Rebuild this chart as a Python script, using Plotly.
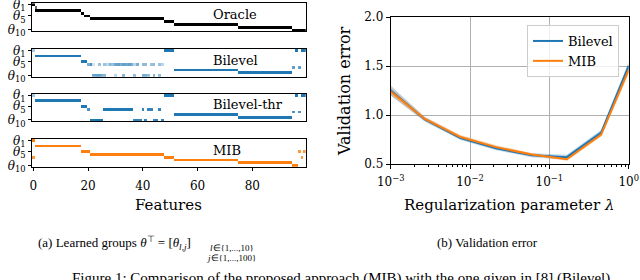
import plotly.graph_objects as go

# ---------------- data: learned groups (left) ----------------
n_features = 100
n_groups = 10
feature_ticks = [0, 20, 40, 60, 80]
group_tickvals = [0, 4, 9]
group_ticktext = ["<i>θ</i><sub>1</sub>", "<i>θ</i><sub>5</sub>", "<i>θ</i><sub>10</sub>"]

# (group row, first feature, last feature, weight)
oracle_segments = [(0, 0, 0, 1), (1, 1, 1, 0.6), (2, 1, 17, 1), (3, 18, 18, 1),
                   (4, 19, 20, 1), (5, 21, 47, 1), (6, 48, 51, 1), (7, 52, 74, 1),
                   (8, 75, 94, 1), (9, 95, 99, 1)]

bilevel_segments = [(0, 0, 0, 0.4), (2, 1, 17, 1), (4, 18, 19, 1), (5, 20, 20, 0.6),
                    (0, 48, 51, 1), (7, 52, 74, 1), (8, 75, 94, 1),
                    (6, 95, 95, 0.7), (0, 96, 96, 1), (6, 97, 97, 0.7), (0, 98, 99, 1)]
bilevel_soft_features = list(range(21, 48))
bilevel_soft_top_row = 5
bilevel_soft_top = [0.8, 0.2, 0.0, 0.45, 0.0, 0.45, 0.3, 0.55, 0.45, 0.65, 0.7, 0.6, 0.7,
                    0.65, 0.7, 0.6, 0.3, 0.6, 0.0, 0.5, 0.5, 0.0, 0.45, 0.5, 0.0, 0.45, 0.3]
bilevel_soft_bottom_row = 9
bilevel_soft_bottom = [0.0, 0.65, 0.7, 0.7, 0.6, 0.55, 0.0, 0.0, 0.0, 0.3, 0.0, 0.0, 0.55,
                       0.0, 0.0, 0.0, 0.5, 0.0, 0.0, 0.6, 0.6, 0.5, 0.0, 0.55, 0.0, 0.5, 0.0]

thr_segments = [(0, 0, 0, 0.4), (2, 1, 17, 1), (4, 18, 19, 1), (5, 20, 20, 0.8),
                (9, 21, 25, 1), (5, 26, 36, 1), (9, 37, 39, 0.9), (5, 40, 40, 0.9),
                (9, 41, 41, 0.9), (5, 42, 43, 0.9), (9, 44, 45, 0.9), (5, 46, 46, 0.9),
                (9, 47, 47, 0.9), (0, 48, 51, 1), (7, 52, 74, 1), (8, 75, 94, 1),
                (6, 95, 95, 0.8), (0, 96, 96, 1), (6, 97, 97, 0.8), (0, 98, 99, 1)]

mib_segments = [(0, 0, 0, 1), (6, 0, 0, 0.8), (2, 1, 17, 1), (4, 18, 20, 1),
                (5, 21, 47, 1), (6, 48, 51, 1), (7, 52, 74, 1), (8, 75, 94, 1),
                (9, 95, 96, 1), (4, 97, 97, 0.8), (6, 98, 98, 0.8), (4, 99, 99, 0.8)]

panel_names = ["Oracle", "Bilevel", "Bilevel-thr", "MIB"]
panel_colors = ["#000000", "#1f77b4", "#1f77b4", "#ff7f0e"]

# ---------------- data: validation error (right) ----------------
lambdas = [0.001, 0.0027, 0.0076, 0.0213, 0.0597, 0.166, 0.45, 1.0]
bilevel_err = [1.25, 0.955, 0.765, 0.66, 0.59, 0.57, 0.82, 1.50]
bilevel_std = [0.05, 0.025, 0.02, 0.02, 0.02, 0.025, 0.03, 0.04]
mib_err = [1.24, 0.96, 0.775, 0.672, 0.597, 0.548, 0.80, 1.46]
mib_std = [0.04, 0.02, 0.02, 0.02, 0.015, 0.015, 0.02, 0.04]
val_ticks = [0.5, 1.0, 1.5, 2.0]
lam_ticks = [0.001, 0.01, 0.1, 1.0]
lam_ticktext = ["10<sup>−3</sup>", "10<sup>−2</sup>", "10<sup>−1</sup>", "10<sup>0</sup>"]


def build(segments, soft=None):
    z = [[0.0] * n_features for _ in range(n_groups)]
    for row, a, b, w in segments:
        for j in range(a, b + 1):
            z[row][j] = max(z[row][j], w)
    if soft:
        for row, weights in soft:
            for j, w in zip(bilevel_soft_features, weights):
                z[row][j] = max(z[row][j], w)
    return z


matrices = [
    build(oracle_segments),
    build(bilevel_segments, [(bilevel_soft_top_row, bilevel_soft_top),
                             (bilevel_soft_bottom_row, bilevel_soft_bottom)]),
    build(thr_segments),
    build(mib_segments),
]

H = 280.0
W = 640.0
def py(pix):
    return 1 - pix / H
def px(pix):
    return pix / W

left_x = [px(32), px(305.7)]
left_y = [(py(31), py(3.3)), (py(76.7), py(49)), (py(121.3), py(93.7)), (py(166.7), py(139))]

SERIF = "DejaVu Serif"
TIMES = "Liberation Serif"

fig = go.Figure()
layout = dict(width=640, height=280, margin=dict(l=0, r=0, t=0, b=0),
              paper_bgcolor="white", plot_bgcolor="white", showlegend=True,
              template="none")


def ann(text, x, y, size, family=SERIF, xanchor="center", **kw):
    return dict(text=text, x=px(x), y=py(y), xref="paper", yref="paper",
                xanchor=xanchor, yanchor="middle", showarrow=False,
                font=dict(family=family, size=size, color="black"), **kw)


annotations = []
label_y = [14, 60.5, 104.5, 150]
for k in range(4):
    sfx = "" if k == 0 else str(k + 1)
    fig.add_trace(go.Heatmap(
        z=matrices[k], x=list(range(n_features)), y=list(range(n_groups)),
        zmin=0, zmax=1, colorscale=[[0, "white"], [1, panel_colors[k]]],
        showscale=False, hoverinfo="skip", xaxis="x" + sfx, yaxis="y" + sfx))
    layout["xaxis" + sfx] = dict(
        domain=left_x, range=[-0.5, 99.5], showline=True, mirror=True,
        linecolor="black", linewidth=1, showgrid=False, zeroline=False, automargin=False,
        tickvals=feature_ticks if k == 3 else [],
        ticks="outside" if k == 3 else "", ticklen=3, tickcolor="black",
        ticklabelstandoff=5,
        showticklabels=(k == 3), tickfont=dict(family=SERIF, size=12, color="black"),
        anchor="y" + sfx)
    layout["yaxis" + sfx] = dict(
        domain=list(left_y[k]), range=[9.5, -0.5], showline=True, mirror=True,
        linecolor="black", linewidth=1, showgrid=False, zeroline=False, automargin=False,
        tickvals=group_tickvals, ticktext=group_ticktext, ticks="outside",
        ticklen=3, tickcolor="black", ticklabeloverflow="allow",
        tickfont=dict(family=SERIF, size=12, color="black"), anchor="x" + sfx)
    annotations.append(ann(panel_names[k], 211, label_y[k], 13, xanchor="left"))

# right plot
upper_b = [m + s for m, s in zip(bilevel_err, bilevel_std)]
lower_b = [m - s for m, s in zip(bilevel_err, bilevel_std)]
upper_m = [m + s for m, s in zip(mib_err, mib_std)]
lower_m = [m - s for m, s in zip(mib_err, mib_std)]
fig.add_trace(go.Scatter(x=lambdas, y=upper_b, mode="lines", line=dict(width=0),
                         showlegend=False, hoverinfo="skip", xaxis="x5", yaxis="y5"))
fig.add_trace(go.Scatter(x=lambdas, y=lower_b, mode="lines", line=dict(width=0),
                         fill="tonexty", fillcolor="rgba(31,119,180,0.3)",
                         showlegend=False, hoverinfo="skip", xaxis="x5", yaxis="y5"))
fig.add_trace(go.Scatter(x=lambdas, y=upper_m, mode="lines", line=dict(width=0),
                         showlegend=False, hoverinfo="skip", xaxis="x5", yaxis="y5"))
fig.add_trace(go.Scatter(x=lambdas, y=lower_m, mode="lines", line=dict(width=0),
                         fill="tonexty", fillcolor="rgba(255,127,14,0.3)",
                         showlegend=False, hoverinfo="skip", xaxis="x5", yaxis="y5"))
fig.add_trace(go.Scatter(x=lambdas, y=bilevel_err, mode="lines", name="Bilevel",
                         line=dict(color="#1f77b4", width=2), xaxis="x5", yaxis="y5"))
fig.add_trace(go.Scatter(x=lambdas, y=mib_err, mode="lines", name="MIB",
                         line=dict(color="#ff7f0e", width=2), xaxis="x5", yaxis="y5"))

layout["xaxis5"] = dict(
    domain=[px(390.7), px(628.7)], type="log", range=[-3, 0], showline=True, mirror=True,
    linecolor="black", linewidth=1, showgrid=True, gridcolor="#b0b0b0", gridwidth=1,
    zeroline=False, automargin=False, tickvals=lam_ticks, ticktext=lam_ticktext,
    ticks="outside", ticklen=4, tickcolor="black", ticklabelstandoff=3,
    ticklabeloverflow="allow",
    tickfont=dict(family=SERIF, size=12, color="black"),
    minor=dict(ticks="outside", ticklen=2, tickcolor="black", dtick="D1", showgrid=False),
    anchor="y5")
layout["yaxis5"] = dict(
    domain=[py(164), py(17)], range=[0.5, 2.0], showline=True, mirror=True,
    linecolor="black", linewidth=1, showgrid=True, gridcolor="#b0b0b0", gridwidth=1,
    zeroline=False, automargin=False, tickvals=val_ticks,
    ticktext=["0.5", "1.0", "1.5", "2.0"],
    ticks="outside", ticklen=4, tickcolor="black",
    tickfont=dict(family=SERIF, size=12, color="black"), anchor="x5")

layout["legend"] = dict(x=px(527), y=py(25), xanchor="left", yanchor="top",
                        bgcolor="rgba(255,255,255,0.8)", bordercolor="#cccccc",
                        borderwidth=1, font=dict(family=SERIF, size=13, color="black"),
                        tracegroupgap=0, itemwidth=30, traceorder="normal")

annotations += [
    ann("Features", 168, 205, 15),
    ann("Regularization parameter <i>λ</i>", 509, 205, 15),
    ann("Validation error", 345, 91, 16, textangle=-90),
    ann("(a) Learned groups <i>θ</i><sup>⊤</sup> = [<i>θ</i><sub><i>l,j</i></sub>]",
        36, 243, 13, family=TIMES, xanchor="left"),
    ann("<i>l</i>∈{1,...,10}", 208, 247.5, 9, family=TIMES, xanchor="left"),
    ann("<i>j</i>∈{1,...,100}", 205, 257.5, 9, family=TIMES, xanchor="left"),
    ann("(b) Validation error", 487, 242, 13, family=TIMES),
    ann("Figure 1: Comparison of the proposed approach (MIB) with the one given in [8] (Bilevel).",
        343, 278, 15, family=TIMES),
]
layout["annotations"] = annotations
fig.update_layout(**layout)
fig.write_html("out.html", config={"displayModeBar": False},
               post_script="document.body.style.margin='0px';")
